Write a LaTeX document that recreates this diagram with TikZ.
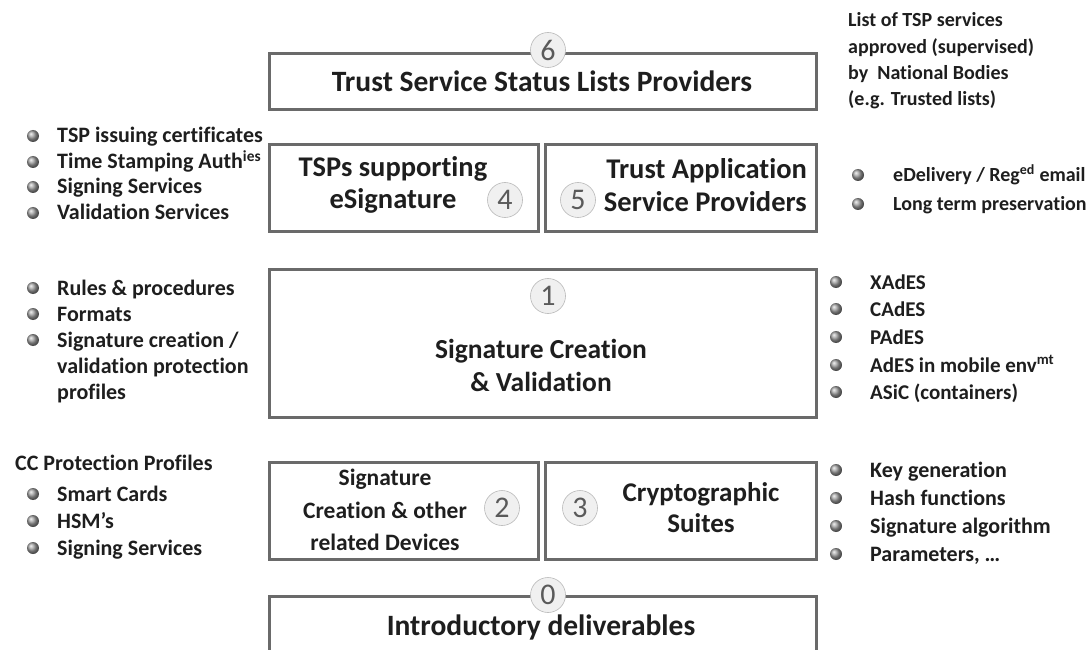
\documentclass[tikz,border=0pt]{standalone}
\usepackage{fontspec}
\setmainfont[Ligatures=NoCommon]{Carlito}
\definecolor{boxgray}{HTML}{6A6A6A}
\definecolor{numgray}{HTML}{5A5A5A}
\definecolor{txt}{HTML}{1E1E1E}
\begin{document}
\begin{tikzpicture}[x=1pt,y=-1pt,
  box/.style={draw=boxgray, line width=3pt, fill=white, inner sep=0pt, anchor=north west},
  num/.style={circle, draw=gray!55, line width=0.6pt, fill=gray!12, text=numgray,
    font=\fontsize{30}{30}\selectfont, minimum size=35pt, inner sep=0pt},
  title/.style={font=\bfseries\fontsize{28.5}{32.5}\selectfont, align=center, text=txt, inner sep=0pt},
  item/.style={anchor=base west, font=\bfseries\fontsize{22}{24}\selectfont, text=txt, inner sep=0pt},
  itemr/.style={item, font=\bfseries\fontsize{20}{24}\selectfont},
  bul/.style={circle, minimum size=12pt, inner sep=0pt, ball color=gray!75}
]
\useasboundingbox (0,0) rectangle (1088,650);
\clip (0,0) rectangle (1088,650);
\fill[white] (0,0) rectangle (1088,650);

% boxes
\node[box, minimum width=547pt, minimum height=56pt] (b6) at (268,52) {};
\node[box, minimum width=269pt, minimum height=87pt] (b4) at (268,143) {};
\node[box, minimum width=271pt, minimum height=87pt] (b5) at (544,143) {};
\node[box, minimum width=547pt, minimum height=148pt] (b1) at (268,268) {};
\node[box, minimum width=269pt, minimum height=97pt] (b2) at (268,461) {};
\node[box, minimum width=271pt, minimum height=97pt] (b3) at (544,461) {};
\node[box, minimum width=547pt, minimum height=120pt] (b0) at (268,595) {};

% titles
\node[title, font=\bfseries\fontsize{29.5}{32.5}\selectfont] (t6) at (542,81) {Trust Service Status Lists Providers};
\node[title] (t4) at (393,185) {TSPs supporting\\eSignature};
\node[title, align=right, anchor=east] (t5) at (807,185) {Trust Application\\Service Providers};
\node[title, font=\bfseries\fontsize{27.5}{33}\selectfont] (t1) at (541,365) {Signature Creation\\\& Validation};
\node[title, font=\bfseries\fontsize{23.5}{32.5}\selectfont] (t2) at (385,510) {Signature\\Creation \& other\\related Devices};
\node[title, font=\bfseries\fontsize{27}{31}\selectfont] (t3) at (701,508) {Cryptographic\\Suites};
\node[title, font=\bfseries\fontsize{29.5}{32.5}\selectfont] (t0) at (541,627) {Introductory deliverables};

% numbers
\node[num] (n6) at (548,50) {6};
\node[num] (n4) at (505,200) {4};
\node[num] (n5) at (578,200) {5};
\node[num] (n1) at (548,296) {1};
\node[num] (n2) at (502,508) {2};
\node[num] (n3) at (580,508) {3};
\node[num] (n0) at (548,595) {0};

% top right note
\node[itemr] (r1) at (848,27) {List of TSP services};
\node[itemr] (r2) at (848,54) {approved (supervised)};
\node[itemr] (r3) at (848,80) {by\ \ National Bodies};
\node[itemr] (r4) at (848,106) {(e.g. Trusted lists)};

% left list (TSPs)
\node[bul] (la1) at (33,136) {}; \node[item] (lt1) at (57,143) {TSP issuing certificates};
\node[bul] (la2) at (33,162) {}; \node[item] (lt2) at (57,169) {Time Stamping Auth\textsuperscript{ies}};
\node[bul] (la3) at (33,187) {}; \node[item] (lt3) at (57,194) {Signing Services};
\node[bul] (la4) at (33,213) {}; \node[item] (lt4) at (57,220) {Validation Services};

% right list (TASP)
\node[bul] (ra1) at (858,175) {}; \node[itemr] (rt1) at (893,182) {eDelivery / Reg\textsuperscript{ed} email};
\node[bul] (ra2) at (858,204) {}; \node[itemr] (rt2) at (893,211) {Long term preservation};

% left list (signature creation)
\node[bul] (lb1) at (33,288) {}; \node[item] (lu1) at (57,295) {Rules \& procedures};
\node[bul] (lb2) at (33,314) {}; \node[item] (lu2) at (57,321) {Formats};
\node[bul] (lb3) at (33,340) {}; \node[item] (lu3) at (57,347) {Signature creation /};
\node[item] (lu4) at (57,373) {validation protection};
\node[item] (lu5) at (57,399) {profiles};

% right list (formats)
\node[bul] (rb1) at (836,282) {}; \node[item, font=\bfseries\fontsize{21}{24}\selectfont] (ru1) at (870,289) {XAdES};
\node[bul] (rb2) at (836,309) {}; \node[item, font=\bfseries\fontsize{21}{24}\selectfont] (ru2) at (870,316) {CAdES};
\node[bul] (rb3) at (836,337) {}; \node[item, font=\bfseries\fontsize{21}{24}\selectfont] (ru3) at (870,344) {PAdES};
\node[bul] (rb4) at (836,365) {}; \node[item, font=\bfseries\fontsize{21}{24}\selectfont] (ru4) at (870,372) {AdES in mobile env\textsuperscript{mt}};
\node[bul] (rb5) at (836,392) {}; \node[item, font=\bfseries\fontsize{21}{24}\selectfont] (ru5) at (870,399) {ASiC (containers)};

% left list (devices)
\node[item] (lc0) at (15,470) {CC Protection Profiles};
\node[bul] (lc1) at (33,494) {}; \node[item] (lv1) at (57,501) {Smart Cards};
\node[bul] (lc2) at (33,521) {}; \node[item] (lv2) at (57,528) {HSM’s};
\node[bul] (lc3) at (33,548) {}; \node[item] (lv3) at (57,555) {Signing Services};

% right list (crypto)
\node[bul] (rc1) at (836,470) {}; \node[item] (rv1) at (870,477) {Key generation};
\node[bul] (rc2) at (836,498) {}; \node[item] (rv2) at (870,505) {Hash functions};
\node[bul] (rc3) at (836,526) {}; \node[item] (rv3) at (870,533) {Signature algorithm};
\node[bul] (rc4) at (836,554) {}; \node[item] (rv4) at (870,561) {Parameters, …};
\end{tikzpicture}
\end{document}
